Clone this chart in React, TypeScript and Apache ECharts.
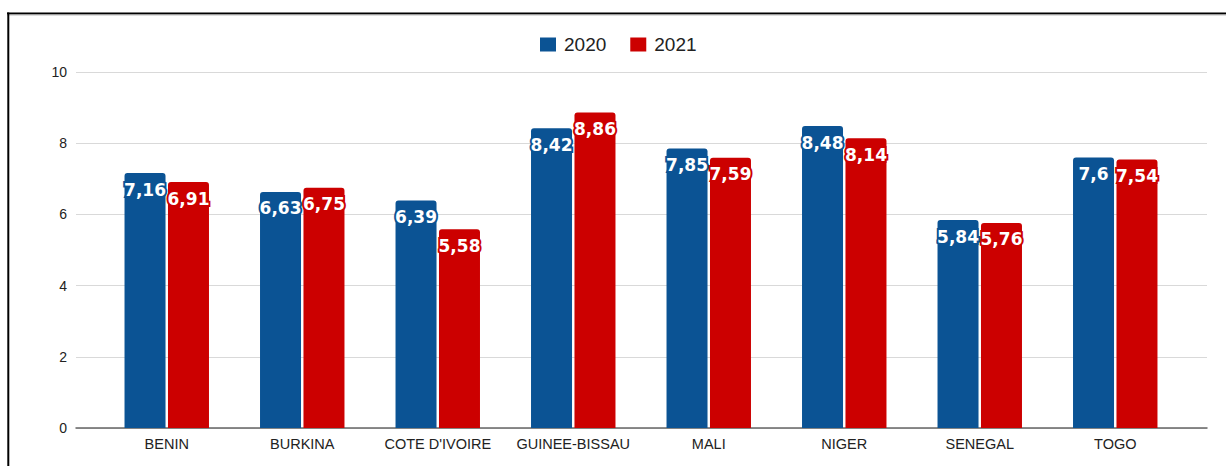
import React, { useEffect, useRef } from "react";
import * as echarts from "echarts";

const categories = ["BENIN", "BURKINA", "COTE D'IVOIRE", "GUINEE-BISSAU", "MALI", "NIGER", "SENEGAL", "TOGO"];
const values2020 = [7.16, 6.63, 6.39, 8.42, 7.85, 8.48, 5.84, 7.6];
const values2021 = [6.91, 6.75, 5.58, 8.86, 7.59, 8.14, 5.76, 7.54];
const seriesNames = ["2020", "2021"];
const yTicks = { min: 0, max: 10, interval: 2 };

const BLUE = "#0b5394";
const RED = "#cc0000";

export default function App() {
  const ref = useRef<HTMLDivElement>(null);
  useEffect(() => {
    document.body.style.margin = "0";
    const chart = echarts.init(ref.current!, null, { renderer: "svg" });
    const label = (color: string) => ({
      show: true,
      position: "insideTop" as const,
      distance: 8,
      color: "#fff",
      fontFamily: "DejaVu Sans",
      fontWeight: "bold" as const,
      fontSize: 17,
      textBorderColor: color,
      textBorderWidth: 4,
      formatter: (p: any) => String(p.value).replace(".", ","),
    });
    chart.setOption({
      animation: false,
      backgroundColor: "#fff",
      textStyle: { fontFamily: "Liberation Sans, Arial, sans-serif" },
      legend: {
        data: seriesNames,
        top: 30,
        left: 535,
        itemWidth: 16,
        itemHeight: 14,
        itemGap: 24,
        icon: "rect",
        textStyle: { fontSize: 19, color: "#222", fontFamily: "Liberation Sans", padding: [0, 0, 0, 3] },
      },
      grid: [
        { left: 76, right: 19, top: 72, bottom: 38, containLabel: false },
        { left: 99, right: 43, top: 72, bottom: 38, containLabel: false },
      ],
      xAxis: [
        {
          type: "category",
          gridIndex: 0,
          data: categories,
          axisLine: { show: true, lineStyle: { color: "#666", width: 1.5 } },
          axisTick: { show: false },
          axisLabel: { show: false },
        },
        {
          type: "category",
          gridIndex: 1,
          data: categories,
          axisLine: { show: false },
          axisTick: { show: false },
          axisLabel: { show: true, interval: 0, hideOverlap: false, color: "#222", fontSize: 14.5, margin: 8, fontFamily: "Liberation Sans" },
        },
      ],
      yAxis: [
        {
          type: "value",
          gridIndex: 0,
          min: yTicks.min,
          max: yTicks.max,
          interval: yTicks.interval,
          axisLine: { show: false },
          axisTick: { show: false },
          axisLabel: { color: "#222", fontSize: 14, margin: 9, fontFamily: "Liberation Sans" },
          splitLine: { lineStyle: { color: "#d9d9d9", width: 1 } },
        },
        {
          type: "value",
          gridIndex: 1,
          min: yTicks.min,
          max: yTicks.max,
          interval: yTicks.interval,
          show: false,
          splitLine: { show: false },
        },
      ],
      series: [
        {
          name: seriesNames[0],
          type: "bar",
          xAxisIndex: 1,
          yAxisIndex: 1,
          data: values2020,
          barWidth: 41,
          barGap: "6%",
          itemStyle: { color: BLUE, borderRadius: [3, 3, 0, 0] },
          label: label(BLUE),
          z: 3,
        },
        {
          name: seriesNames[1],
          type: "bar",
          xAxisIndex: 1,
          yAxisIndex: 1,
          data: values2021,
          barWidth: 41,
          barGap: "6%",
          itemStyle: { color: RED, borderRadius: [3, 3, 0, 0] },
          label: label(RED),
          z: 3,
        },
      ],
      graphic: [
        { type: "line", shape: { x1: 7, y1: 13.5, x2: 1226, y2: 13.5 }, style: { stroke: "#000", lineWidth: 2 }, z: 10 },
        { type: "line", shape: { x1: 7, y1: 15, x2: 1226, y2: 15 }, style: { stroke: "#bbb", lineWidth: 1 }, z: 10 },
        { type: "line", shape: { x1: 8.3, y1: 12.5, x2: 8.3, y2: 466 }, style: { stroke: "#000", lineWidth: 2 }, z: 10 },
      ],
    });
    return () => chart.dispose();
  }, []);
  return <div ref={ref} style={{ width: 1226, height: 466, position: "absolute", left: 0, top: 0 }} />;
}
